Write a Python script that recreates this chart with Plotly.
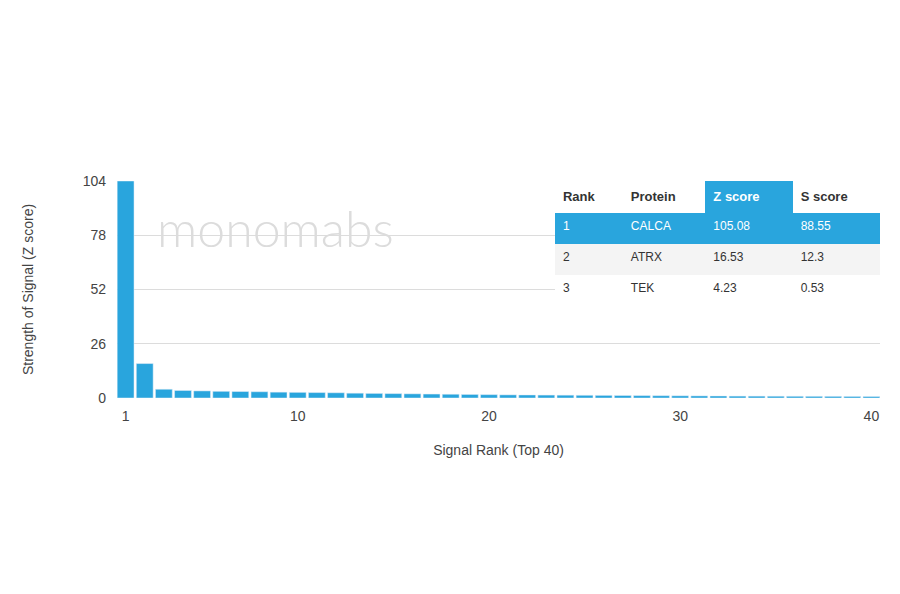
import plotly.graph_objects as go

ranks = list(range(1, 41))
z_scores = [104, 16.5, 4.2, 3.6, 3.4, 3.2, 3.1, 3.0, 2.8, 2.7, 2.6, 2.5, 2.3, 2.2, 2.1, 2.0,
            1.9, 1.8, 1.7, 1.6, 1.5, 1.45, 1.4, 1.35, 1.3, 1.25, 1.2, 1.15, 1.1, 1.05,
            1.0, 0.95, 0.9, 0.88, 0.85, 0.82, 0.8, 0.78, 0.75, 0.72]

tbl_rank = ["1", "2", "3"]
tbl_protein = ["CALCA", "ATRX", "TEK"]
tbl_z = ["105.08", "16.53", "4.23"]
tbl_s = ["88.55", "12.3", "0.53"]

blue = "#29a5dd"

fig = go.Figure()
fig.add_trace(go.Bar(x=ranks, y=z_scores, marker_color=blue, width=0.88, showlegend=False))

row_fill = [blue, "#f4f4f4", "white"]
txt_col = ["white", "#333", "#333"]
fig.add_trace(go.Table(
    domain=dict(x=[0.574, 1.0], y=[0.41, 1.0]),
    columnwidth=[70, 85, 90, 90],
    header=dict(values=["<b>Rank</b>", "<b>Protein</b>", "<b>Z score</b>", "<b>S score</b>"],
                fill_color=["white", "white", blue, "white"],
                font=dict(color=["#333", "#333", "white", "#333"], size=13, family="Arial"),
                align="left", height=32, line_color="rgba(0,0,0,0)"),
    cells=dict(values=[tbl_rank, tbl_protein, tbl_z, tbl_s],
               fill_color=[row_fill] * 4,
               font=dict(color=[txt_col] * 4, size=12, family="Arial"),
               align="left", height=31, line_color="rgba(0,0,0,0)"),
))

fig.add_annotation(text="monomabs", x=0.05, y=0.93, xref="paper", yref="paper",
                   xanchor="left", showarrow=False,
                   font=dict(size=50, color="#dcdcdc", family="Lato", weight=300))

fig.update_layout(
    width=900, height=594, plot_bgcolor="white", paper_bgcolor="white",
    margin=dict(l=109, r=28, t=173, b=204, autoexpand=False), bargap=0.1,
    font=dict(family="Arial", color="#444", size=14),
)
fig.update_xaxes(range=[0.55, 40.45], tickvals=[1, 10, 20, 30, 40], showgrid=False, automargin=False,
                 ticklabelstandoff=8,
                 title=dict(text="Signal Rank (Top 40)", font=dict(size=14), standoff=22),
                 ticks="", zeroline=False)
fig.update_yaxes(range=[0, 104], tickvals=[0, 26, 52, 78, 104], gridcolor="#dcdcdc", automargin=False,
                 ticklabelstandoff=10,
                 title=dict(text="Strength of Signal (Z score)", font=dict(size=14), standoff=45),
                 zeroline=False)

fig.write_html("out.html")
